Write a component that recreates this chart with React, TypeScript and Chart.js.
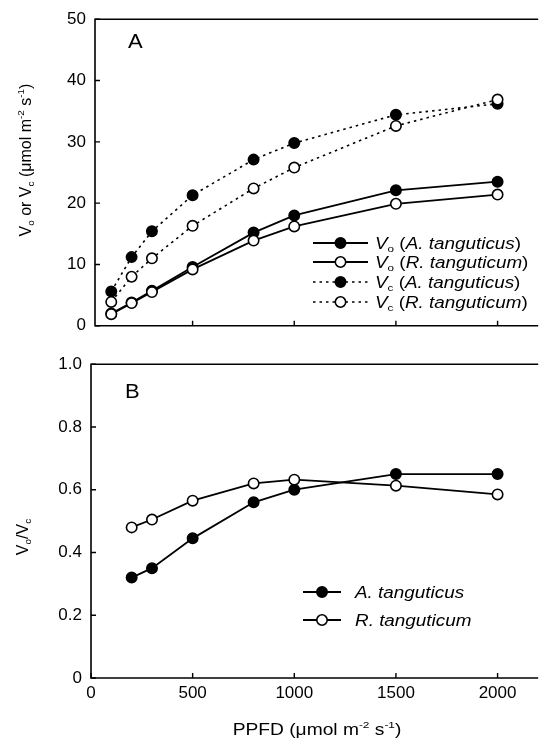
import React, { useEffect, useRef } from "react";
import { Chart, registerables } from "chart.js";

Chart.register(...registerables);

// ---------- data ----------
const ppfdTop = [100, 200, 300, 500, 800, 1000, 1500, 2000];
const voAT = [2.0, 3.8, 5.7, 9.6, 15.2, 18.0, 22.1, 23.5];
const voRT = [1.9, 3.7, 5.5, 9.2, 13.9, 16.2, 19.9, 21.4];
const vcAT = [5.6, 11.2, 15.4, 21.3, 27.1, 29.8, 34.4, 36.2];
const vcRT = [3.9, 8.0, 11.0, 16.3, 22.4, 25.8, 32.6, 36.9];

const ppfdBottom = [200, 300, 500, 800, 1000, 1500, 2000];
const ratioAT = [0.32, 0.35, 0.445, 0.56, 0.6, 0.65, 0.65];
const ratioRT = [0.48, 0.505, 0.565, 0.62, 0.632, 0.613, 0.585];

const xTicksTop = [500, 1000, 1500, 2000];
const xTicksBottom = [0, 500, 1000, 1500, 2000];
const yTicksTop = [0, 10, 20, 30, 40, 50];
const yTicksBottom = [0, 0.2, 0.4, 0.6, 0.8, 1.0];

const FONT = '"Liberation Sans", Arial, Helvetica, sans-serif';

type Seg = { t: string; it?: boolean; sub?: boolean; sup?: boolean };

function segFont(s: Seg, size: number) {
  const sz = s.sub || s.sup ? size * 0.62 : size;
  return `${s.it ? "italic " : ""}${sz}px ${FONT}`;
}
function richWidth(ctx: CanvasRenderingContext2D, segs: Seg[], size: number) {
  let w = 0;
  for (const s of segs) {
    ctx.font = segFont(s, size);
    w += ctx.measureText(s.t).width;
  }
  return w;
}
function drawRich(
  ctx: CanvasRenderingContext2D,
  segs: Seg[],
  x: number,
  y: number,
  size: number,
  align: "left" | "center",
  sx = 1,
  rotate = false
) {
  ctx.save();
  ctx.translate(x, y);
  if (rotate) ctx.rotate(-Math.PI / 2);
  ctx.scale(sx, 1);
  ctx.fillStyle = "#000";
  ctx.textBaseline = "alphabetic";
  ctx.textAlign = "left";
  const w = richWidth(ctx, segs, size);
  let cx = align === "center" ? -w / 2 : 0;
  const base = size * 0.36;
  for (const s of segs) {
    ctx.font = segFont(s, size);
    const dy = s.sub ? size * 0.22 : s.sup ? -size * 0.4 : 0;
    ctx.fillText(s.t, cx, base + dy);
    cx += ctx.measureText(s.t).width;
  }
  ctx.restore();
}

type LegendItem = { segs: Seg[]; filled: boolean; dashed: boolean };

type Decor = {
  letter: string;
  letterX: number;
  letterY: number;
  yTitle: Seg[];
  yTitleX: number;
  yTitleY: number;
  xTitle?: Seg[];
  xTitleX?: number;
  xTitleY?: number;
  xTicks: number[];
  yTicks: number[];
  legend: LegendItem[];
  legendRows: number[];
  legendLine: [number, number];
  legendText: number;
};

function drawMarker(ctx: CanvasRenderingContext2D, x: number, y: number, filled: boolean) {
  ctx.save();
  ctx.beginPath();
  ctx.arc(x, y, 5.2, 0, Math.PI * 2);
  ctx.fillStyle = filled ? "#000" : "#fff";
  ctx.fill();
  ctx.lineWidth = 1.6;
  ctx.strokeStyle = "#000";
  ctx.stroke();
  ctx.restore();
}

function makeDecor(d: Decor) {
  return {
    id: "decor" + d.letter,
    afterDraw(chart: any) {
      const ctx: CanvasRenderingContext2D = chart.ctx;
      const { left, top, right, bottom } = chart.chartArea;
      const xs = chart.scales.x;
      const ys = chart.scales.y;
      ctx.save();
      ctx.strokeStyle = "#000";
      ctx.lineWidth = 1.6;
      ctx.setLineDash([]);
      ctx.beginPath();
      ctx.moveTo(right + 2, top);
      ctx.lineTo(left, top);
      ctx.lineTo(left, bottom);
      ctx.lineTo(right + 2, bottom);
      ctx.stroke();
      // inward ticks
      ctx.lineWidth = 1.4;
      ctx.beginPath();
      for (const v of d.yTicks) {
        const p = ys.getPixelForValue(v);
        ctx.moveTo(left, p);
        ctx.lineTo(left + 5, p);
      }
      for (const v of d.xTicks) {
        const p = xs.getPixelForValue(v);
        ctx.moveTo(p, bottom);
        ctx.lineTo(p, bottom - 5);
      }
      ctx.stroke();
      ctx.restore();

      // panel letter
      ctx.save();
      ctx.translate(d.letterX, d.letterY);
      ctx.scale(1.1, 1);
      ctx.font = `20px ${FONT}`;
      ctx.fillStyle = "#000";
      ctx.textBaseline = "alphabetic";
      ctx.textAlign = "left";
      ctx.fillText(d.letter, 0, 0);
      ctx.restore();

      // axis titles
      drawRich(ctx, d.yTitle, d.yTitleX, d.yTitleY, 16, "center", 1, true);
      if (d.xTitle) drawRich(ctx, d.xTitle, d.xTitleX!, d.xTitleY!, 16, "center", 1.2);

      // legend
      d.legend.forEach((item, i) => {
        const y = d.legendRows[i];
        const [x0, x1] = d.legendLine;
        ctx.save();
        ctx.strokeStyle = "#000";
        ctx.lineWidth = item.dashed ? 1.6 : 1.8;
        ctx.setLineDash(item.dashed ? [2.5, 4] : []);
        ctx.beginPath();
        ctx.moveTo(x0, y);
        ctx.lineTo(x1, y);
        ctx.stroke();
        ctx.restore();
        drawMarker(ctx, (x0 + x1) / 2, y, item.filled);
        drawRich(ctx, item.segs, d.legendText, y, 16, "left", 1.18);
      });
    },
  };
}

function series(xs: number[], ys: number[], filled: boolean, dashed: boolean, order: number) {
  return {
    data: xs.map((x, i) => ({ x, y: ys[i] })),
    borderColor: "#000",
    borderWidth: dashed ? 1.6 : 1.8,
    borderDash: dashed ? [2.5, 4] : [],
    pointRadius: 5.2,
    pointBorderWidth: 1.6,
    pointBackgroundColor: filled ? "#000" : "#fff",
    pointBorderColor: "#000",
    pointStyle: "circle",
    fill: false,
    tension: 0,
    order,
    clip: false,
  };
}

const tickFont = { family: FONT, size: 17 };

export default function App() {
  const refA = useRef<HTMLCanvasElement>(null);
  const refB = useRef<HTMLCanvasElement>(null);

  useEffect(() => {
    const legendTop: LegendItem[] = [
      { segs: [{ t: "V", it: true }, { t: "o", sub: true }, { t: " (" }, { t: "A. tanguticus", it: true }, { t: ")" }], filled: true, dashed: false },
      { segs: [{ t: "V", it: true }, { t: "o", sub: true }, { t: " (" }, { t: "R. tanguticum", it: true }, { t: ")" }], filled: false, dashed: false },
      { segs: [{ t: "V", it: true }, { t: "c", sub: true }, { t: " (" }, { t: "A. tanguticus", it: true }, { t: ")" }], filled: true, dashed: true },
      { segs: [{ t: "V", it: true }, { t: "c", sub: true }, { t: " (" }, { t: "R. tanguticum", it: true }, { t: ")" }], filled: false, dashed: true },
    ];
    const legendBottom: LegendItem[] = [
      { segs: [{ t: "A. tanguticus", it: true }], filled: true, dashed: false },
      { segs: [{ t: "R. tanguticum", it: true }], filled: false, dashed: false },
    ];

    const chartA = new Chart(refA.current as HTMLCanvasElement, {
      type: "line",
      data: {
        datasets: [
          series(ppfdTop, voRT, false, false, 0),
          series(ppfdTop, voAT, true, false, 1),
          series(ppfdTop, vcRT, false, true, 2),
          series(ppfdTop, vcAT, true, true, 3),
        ] as any,
      },
      options: {
        animation: false,
        responsive: false,
        devicePixelRatio: 1,
        events: [],
        layout: { padding: { top: 11, right: 1, left: 0, bottom: 0 } },
        plugins: { legend: { display: false }, tooltip: { enabled: false } },
        scales: {
          x: {
            type: "linear",
            min: 20,
            max: 2190,
            grid: { display: false, drawTicks: false },
            border: { display: false },
            ticks: { display: false },
            afterBuildTicks: (s: any) => {
              s.ticks = xTicksTop.map((v) => ({ value: v }));
            },
            afterFit: (s: any) => {
              s.height = 18;
            },
          },
          y: {
            type: "linear",
            min: 0,
            max: 50,
            grid: { display: false, drawTicks: false },
            border: { display: false },
            ticks: { color: "#000", font: tickFont, padding: 9, callback: (v: any) => String(v) },
            afterBuildTicks: (s: any) => {
              s.ticks = yTicksTop.map((v) => ({ value: v }));
            },
            afterFit: (s: any) => {
              s.width = 95;
            },
          },
        },
      } as any,
      plugins: [
        makeDecor({
          letter: "A",
          letterX: 128,
          letterY: 48,
          yTitle: [
            { t: "V" }, { t: "o", sub: true }, { t: " or " }, { t: "V" }, { t: "c", sub: true },
            { t: " (μmol m" }, { t: "-2", sup: true }, { t: " s" }, { t: "-1", sup: true }, { t: ")" },
          ],
          yTitleX: 25,
          yTitleY: 160,
          xTicks: xTicksTop,
          yTicks: yTicksTop,
          legend: legendTop,
          legendRows: [243, 262, 282, 302],
          legendLine: [313, 368],
          legendText: 375,
        }) as any,
      ],
    });

    const chartB = new Chart(refB.current as HTMLCanvasElement, {
      type: "line",
      data: {
        datasets: [
          series(ppfdBottom, ratioRT, false, false, 0),
          series(ppfdBottom, ratioAT, true, false, 1),
        ] as any,
      },
      options: {
        animation: false,
        responsive: false,
        devicePixelRatio: 1,
        events: [],
        layout: { padding: { top: 14, right: 1, left: 0, bottom: 0 } },
        plugins: { legend: { display: false }, tooltip: { enabled: false } },
        scales: {
          x: {
            type: "linear",
            min: 0,
            max: 2190,
            grid: { display: false, drawTicks: false },
            border: { display: false },
            ticks: { color: "#000", font: tickFont, padding: 5, maxRotation: 0, callback: (v: any) => String(v) },
            afterBuildTicks: (s: any) => {
              s.ticks = xTicksBottom.map((v) => ({ value: v }));
            },
            afterFit: (s: any) => {
              s.height = 67;
            },
          },
          y: {
            type: "linear",
            min: 0,
            max: 1,
            grid: { display: false, drawTicks: false },
            border: { display: false },
            ticks: {
              color: "#000",
              font: tickFont,
              padding: 9,
              callback: (v: any) => (Number(v) === 0 ? "0" : Number(v).toFixed(1)),
            },
            afterBuildTicks: (s: any) => {
              s.ticks = yTicksBottom.map((v) => ({ value: v }));
            },
            afterFit: (s: any) => {
              s.width = 91;
            },
          },
        },
      } as any,
      plugins: [
        makeDecor({
          letter: "B",
          letterX: 125,
          letterY: 53,
          yTitle: [{ t: "V" }, { t: "o", sub: true }, { t: "/V" }, { t: "c", sub: true }],
          yTitleX: 22,
          yTitleY: 192,
          xTitle: [{ t: "PPFD (μmol m" }, { t: "-2", sup: true }, { t: " s" }, { t: "-1", sup: true }, { t: ")" }],
          xTitleX: 317,
          xTitleY: 384,
          xTicks: xTicksBottom,
          yTicks: yTicksBottom,
          legend: legendBottom,
          legendRows: [247, 275],
          legendLine: [303, 341],
          legendText: 355,
        }) as any,
      ],
    });

    return () => {
      chartA.destroy();
      chartB.destroy();
    };
  }, []);

  return (
    <div style={{ position: "absolute", left: 0, top: 0, width: 543, height: 745, background: "#fff" }}>
      <canvas ref={refA} width={543} height={345} style={{ position: "absolute", left: 0, top: 0 }} />
      <canvas ref={refB} width={543} height={400} style={{ position: "absolute", left: 0, top: 345 }} />
    </div>
  );
}
